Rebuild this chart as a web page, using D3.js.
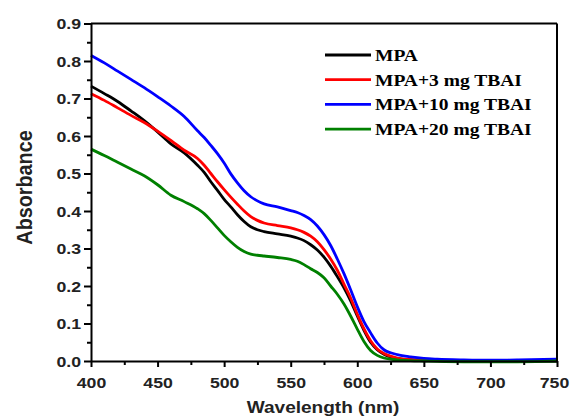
<!DOCTYPE html>
<html>
<head>
<meta charset="utf-8">
<script src="https://cdn.jsdelivr.net/npm/d3@7"></script>
<style>
  html, body { margin: 0; padding: 0; background: #fff; }
  svg { display: block; }
</style>
</head>
<body>
<svg id="chart" width="570" height="420"></svg>
<script>
// Wavelength grid (nm)
const wavelengths = [400,410,420,430,440,450,460,470,480,485,490,495,500,505,510,515,520,525,530,540,550,555,560,565,570,575,580,585,590,595,600,605,610,615,620,625,630,640,650,660,680,700,720,740,750];

// Absorbance spectra
const mpa = [0.733,0.713,0.692,0.667,0.641,0.611,0.579,0.555,0.522,0.503,0.478,0.455,0.431,0.411,0.390,0.372,0.358,0.350,0.345,0.339,0.333,0.328,0.321,0.310,0.296,0.277,0.253,0.225,0.195,0.160,0.120,0.082,0.050,0.030,0.018,0.011,0.007,0.003,0.002,0.001,0.000,-0.001,0.000,0.000,0.000];
const mpa3 = [0.713,0.695,0.675,0.655,0.636,0.613,0.588,0.562,0.540,0.522,0.500,0.478,0.457,0.437,0.418,0.400,0.385,0.375,0.368,0.361,0.355,0.350,0.343,0.333,0.318,0.297,0.272,0.242,0.205,0.168,0.125,0.086,0.054,0.032,0.020,0.013,0.008,0.004,0.002,0.001,0.000,0.000,0.000,0.001,0.001];
const mpa10 = [0.815,0.795,0.773,0.751,0.729,0.705,0.680,0.652,0.614,0.596,0.575,0.553,0.528,0.499,0.475,0.454,0.438,0.427,0.419,0.411,0.401,0.396,0.388,0.377,0.360,0.337,0.308,0.272,0.233,0.190,0.145,0.105,0.075,0.048,0.030,0.022,0.017,0.011,0.007,0.005,0.003,0.002,0.003,0.004,0.005];
const mpa20 = [0.565,0.548,0.530,0.512,0.494,0.470,0.442,0.425,0.406,0.393,0.375,0.355,0.335,0.318,0.303,0.292,0.285,0.282,0.280,0.276,0.271,0.266,0.257,0.246,0.236,0.222,0.200,0.178,0.152,0.120,0.085,0.052,0.028,0.015,0.008,0.005,0.003,0.001,0.000,-0.001,-0.002,-0.002,-0.002,-0.001,0.000];

const seriesNames = ["MPA", "MPA+3 mg TBAI", "MPA+10 mg TBAI", "MPA+20 mg TBAI"];
const seriesValues = [mpa, mpa3, mpa10, mpa20];
const seriesColors = ["#000000", "#ff0000", "#0000ff", "#008000"];

const xTickValues = [400,450,500,550,600,650,700,750];
const yTickValues = [0.0,0.1,0.2,0.3,0.4,0.5,0.6,0.7,0.8,0.9];

const svg = d3.select("#chart");
const x = d3.scaleLinear().domain([400, 750]).range([91, 557]);
const y = d3.scaleLinear().domain([0, 0.9]).range([361, 23.5]);

const sansBold = "'Liberation Sans', Arial, sans-serif";
const serifBold = "'Liberation Serif', 'Times New Roman', serif";

// Curves (drawn first, frame on top)
const plot = svg.append("g");
const line = d3.line()
  .x(d => x(d[0]))
  .y(d => y(d[1]))
  .curve(d3.curveMonotoneX);

seriesValues.forEach((vals, i) => {
  const pts = wavelengths.map((w, k) => [w, vals[k]]);
  plot.append("path")
    .datum(pts)
    .attr("fill", "none")
    .attr("stroke", seriesColors[i])
    .attr("stroke-width", 2.8)
    .attr("stroke-linejoin", "round")
    .attr("d", line);
});

// Frame: top and right edges
svg.append("line").attr("x1", x(400)).attr("x2", x(750)).attr("y1", y(0.9)).attr("y2", y(0.9))
  .attr("stroke", "#000").attr("stroke-width", 2);
svg.append("line").attr("x1", x(750)).attr("x2", x(750)).attr("y1", y(0.9)).attr("y2", y(0))
  .attr("stroke", "#000").attr("stroke-width", 2);

// Minor ticks
const xMinor = d3.range(425, 750, 50);
const yMinor = d3.range(0.05, 0.9, 0.1);
svg.append("g").attr("transform", `translate(0,${y(0)})`)
  .call(d3.axisBottom(x).tickValues(xMinor).tickSize(4).tickFormat(""))
  .call(g => g.select(".domain").remove())
  .call(g => g.selectAll("line").attr("stroke-width", 2));
svg.append("g").attr("transform", `translate(${x(400)},0)`)
  .call(d3.axisLeft(y).tickValues(yMinor).tickSize(4).tickFormat(""))
  .call(g => g.select(".domain").remove())
  .call(g => g.selectAll("line").attr("stroke-width", 2));

// Major axes
const sx = 1.18;
const xAxis = svg.append("g").attr("transform", `translate(0,${y(0)})`)
  .call(d3.axisBottom(x).tickValues(xTickValues).tickSize(6).tickSizeOuter(0).tickFormat(d3.format("d")));
xAxis.select(".domain").attr("stroke-width", 2);
xAxis.selectAll(".tick line").attr("stroke-width", 2);
xAxis.selectAll("text")
  .attr("font-family", sansBold).attr("font-weight", "bold").attr("font-size", 15)
  .attr("fill", "#222")
  .attr("y", 0).attr("dy", 0)
  // keep the last label inside the canvas
  .attr("transform", d => `translate(${d === 750 ? -3 : 0},27) scale(${sx},1)`);

const yAxis = svg.append("g").attr("transform", `translate(${x(400)},0)`)
  .call(d3.axisLeft(y).tickValues(yTickValues).tickSize(7).tickSizeOuter(0).tickFormat(d3.format(".1f")));
yAxis.select(".domain").attr("stroke-width", 2);
yAxis.selectAll(".tick line").attr("stroke-width", 2);
yAxis.selectAll("text")
  .attr("font-family", sansBold).attr("font-weight", "bold").attr("font-size", 15)
  .attr("fill", "#222")
  .attr("x", -10 / sx).attr("dy", 0)
  .attr("transform", `translate(0,5.3) scale(${sx},1)`);

// Axis titles
svg.append("g").attr("transform", `translate(323,413) scale(1.19,1)`)
  .append("text")
  .attr("text-anchor", "middle")
  .attr("font-family", sansBold).attr("font-weight", "bold").attr("font-size", 16)
  .attr("fill", "#222")
  .text("Wavelength (nm)");

svg.append("g").attr("transform", `translate(32,187.5) rotate(-90) scale(0.9,1)`)
  .append("text")
  .attr("text-anchor", "middle")
  .attr("font-family", sansBold).attr("font-weight", "bold").attr("font-size", 22)
  .attr("fill", "#222")
  .text("Absorbance");

// Legend
const legend = svg.append("g");
seriesNames.forEach((name, i) => {
  const ly = 55 + i * 24.7;
  legend.append("line")
    .attr("x1", 325).attr("x2", 371).attr("y1", ly).attr("y2", ly)
    .attr("stroke", seriesColors[i]).attr("stroke-width", 2.8);
  legend.append("g").attr("transform", `translate(375,${ly + 5.8}) scale(1.22,1)`)
    .append("text")
    .attr("font-family", serifBold).attr("font-weight", "bold").attr("font-size", 16)
    .attr("fill", "#000")
    .text(name);
});
</script>
</body>
</html>
